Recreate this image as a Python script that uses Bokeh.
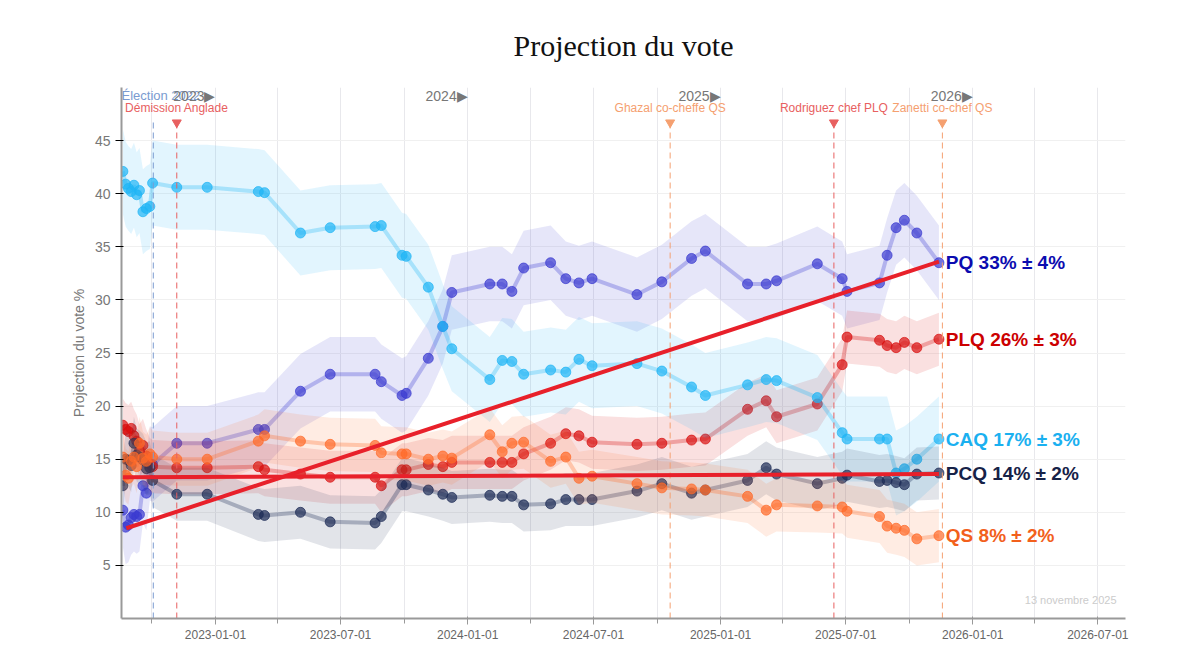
import pandas as pd
from bokeh.plotting import figure
from bokeh.models import Range1d, FixedTicker
from bokeh.core.properties import value
from bokeh.embed import file_html
from bokeh.resources import INLINE

early_dates = ["2022-08-20","2022-08-24","2022-08-28","2022-09-01","2022-09-05","2022-09-09","2022-09-13","2022-09-18","2022-09-23","2022-09-28"]
dates = ["2022-10-02","2022-11-06","2022-12-20",
         "2023-03-04","2023-03-13","2023-05-04","2023-06-16","2023-08-20","2023-08-29","2023-09-28","2023-10-04","2023-11-05","2023-11-26","2023-12-09",
         "2024-02-02","2024-02-20","2024-03-05","2024-03-22","2024-04-30","2024-05-22","2024-06-10","2024-06-29","2024-09-02","2024-10-08","2024-11-20","2024-12-10",
         "2025-02-09","2025-03-08","2025-03-23","2025-05-21","2025-06-26","2025-07-03","2025-08-19","2025-08-30","2025-09-12","2025-09-24","2025-10-12","2025-11-13"]

parties = ["PQ","PLQ","CAQ","PCQ","QS"]
early = {
 "CAQ":[42.1,40.9,40.5,40.2,40.8,39.9,40.3,38.3,38.6,38.8],
 "PQ":[10.2,8.6,8.8,9.5,9.8,9.6,9.8,12.5,11.8,14.6],
 "PLQ":[18.2,17.8,17.6,17.9,17.2,16.7,15.8,16.3,15.3,14.5],
 "QS":[15.2,13.5,13.2,14.8,15.2,14.3,16.5,15.1,14.8,15.5],
 "PCQ":[12.5,15.0,14.9,14.4,16.5,15.4,15.2,14.9,14.1,14.2],
}
vals = {
 "CAQ":[41.0,40.6,40.6,40.2,40.1,36.3,36.8,36.9,37.0,34.2,34.1,31.2,27.5,25.4,22.5,24.3,24.2,23.0,23.4,23.2,24.4,23.8,24.0,23.3,21.8,21.0,22.0,22.5,22.4,20.8,17.5,16.9,16.9,16.9,13.7,14.1,15.0,16.9],
 "PQ":[14.5,16.5,16.5,17.8,17.8,21.4,23.0,23.0,22.3,21.0,21.2,24.5,27.5,30.7,31.5,31.5,30.8,33.0,33.5,32.0,31.6,32.0,30.5,31.7,33.9,34.6,31.5,31.5,31.8,33.4,32.0,30.8,31.6,34.2,36.8,37.5,36.3,33.5],
 "PLQ":[14.3,14.2,14.2,14.3,14.0,13.6,13.3,13.3,12.5,14.0,14.0,14.5,14.3,14.7,14.7,14.7,14.7,15.5,16.5,17.4,17.2,16.6,16.4,16.5,16.8,16.9,19.7,20.5,19.0,20.2,23.9,26.5,26.2,25.7,25.5,26.0,25.5,26.3],
 "QS":[15.2,15.0,15.0,16.7,17.2,16.7,16.4,16.3,15.6,15.5,15.5,15.0,15.3,15.1,17.3,15.7,16.5,16.6,14.8,15.2,13.2,13.4,12.7,12.3,12.2,12.1,11.5,10.2,10.7,10.6,10.5,10.1,9.6,8.7,8.5,8.3,7.5,7.8],
 "PCQ":[13.0,11.7,11.7,9.8,9.7,10.0,9.1,9.0,9.6,12.6,12.6,12.1,11.7,11.4,11.6,11.5,11.5,10.7,10.8,11.2,11.2,11.2,12.0,12.7,11.8,12.1,13.0,14.2,13.6,12.7,13.2,13.5,12.9,13.0,12.8,12.6,13.6,13.7],
}
band = {"CAQ":4.0,"PQ":3.5,"PLQ":2.5,"QS":2.5,"PCQ":2.5}
colors = {"CAQ":"#1fb5f5","PQ":"#3b3bd0","PLQ":"#d81010","QS":"#ff6a28","PCQ":"#1c2b55"}
label_colors = {"CAQ":"#1ab0f0","PQ":"#0b0bb0","PLQ":"#cc0000","QS":"#f2601c","PCQ":"#162247"}
final_pct = {"PQ":33,"PLQ":26,"CAQ":17,"PCQ":14,"QS":8}
final_err = {"PQ":4,"PLQ":3,"CAQ":3,"PCQ":2,"QS":2}

events = ["Élection 2022","Démission Anglade","Ghazal co-cheffe QS","Rodriguez chef PLQ","Zanetti co-chef QS"]
event_dates = ["2022-10-03","2022-11-06","2024-10-20","2025-06-14","2025-11-18"]
event_colors = ["#7a9bd0","#e86060","#f5a070","#e86060","#f5a070"]

years = ["2023","2024","2025","2026"]
year_dates = ["2023-01-01","2024-01-01","2025-01-01","2026-01-01"]
tick_dates = ["2023-01-01","2023-07-01","2024-01-01","2024-07-01","2025-01-01","2025-07-01","2026-01-01","2026-07-01"]

trend_x0 = ["2022-08-25","2022-08-20"]
trend_y0 = [8.5,13.3]
trend_x1 = ["2025-11-13","2025-11-13"]
trend_y1 = [33.6,13.6]

D = lambda l: pd.to_datetime(pd.Series(l))
ms = lambda d: pd.Timestamp(d).value / 1e6
x_start = "2022-08-18"

p = figure(width=1184, height=641, output_backend="svg", toolbar_location=None,
           x_axis_type="datetime",
           x_range=Range1d(pd.Timestamp(x_start), pd.Timestamp("2026-08-10")),
           y_range=Range1d(0, 50),
           min_border_left=121, min_border_right=59, min_border_bottom=23, min_border_top=10)
p.title.text = "Projection du vote"
p.title.align = "center"
p.title.text_font = "Liberation Serif"
p.title.text_font_style = "normal"
p.title.text_font_size = "30px"
p.title.text_color = "#111111"
p.title.standoff = 52
p.outline_line_color = None

qt = [ms(f"{y}-{m:02d}-01") for y in range(2022,2027) for m in (1,4,7,10)]
p.xaxis.ticker = FixedTicker(ticks=[ms(d) for d in tick_dates], minor_ticks=qt)
p.xaxis.major_label_overrides = {ms(d): d for d in tick_dates}
p.xaxis.major_label_text_color = "#666666"
p.xaxis.major_label_text_font_size = "12px"
p.xaxis.axis_line_color = "#999999"
p.xaxis.axis_line_width = 2
p.xaxis.major_tick_line_color = "#999999"
p.xaxis.minor_tick_line_color = "#999999"
p.xaxis.minor_tick_out = 5
p.yaxis.ticker = FixedTicker(ticks=[5,10,15,20,25,30,35,40,45])
p.yaxis.axis_label = "Projection du vote %"
p.yaxis.axis_label_text_color = "#777777"
p.yaxis.axis_label_text_font_style = "normal"
p.yaxis.axis_label_text_font_size = "14px"
p.yaxis.major_label_text_color = "#777777"
p.yaxis.major_label_text_font_size = "14px"
p.yaxis.axis_line_color = "#999999"
p.yaxis.axis_line_width = 2
p.yaxis.minor_tick_line_color = None
p.xgrid.ticker = FixedTicker(ticks=qt)
p.xgrid.grid_line_color = "#e8e8ec"
p.ygrid.grid_line_color = "#f0f0f0"

for party in parties:
    x = pd.concat([D(early_dates), D(dates)], ignore_index=True)
    y = early[party] + vals[party]
    c = colors[party]
    p.varea(x=x, y1=[v-band[party] for v in y], y2=[v+band[party] for v in y],
            fill_color=c, fill_alpha=0.13)
    p.line(x, y, line_color=c, line_width=4, line_alpha=0.3)
    p.scatter(x, y, size=10, fill_color=c, line_color=c, fill_alpha=0.7, line_alpha=0.7)
    p.text(x=[pd.Timestamp("2025-11-23")], y=[vals[party][-1]],
           text=[f"{party} {final_pct[party]}% ± {final_err[party]}%"],
           text_color=label_colors[party], text_font=value("Liberation Sans"),
           text_font_style="bold", text_font_size="19px", text_baseline="middle")

for name, d, c in zip(events, event_dates, event_colors):
    t = pd.Timestamp(d)
    p.segment(x0=[t], y0=[0], x1=[t], y1=[46.9], line_color=c, line_dash="6 4", line_width=1)
    if name == "Élection 2022":
        p.text(x=[pd.Timestamp(x_start)], y=[49.2], text=[name], text_color=c, text_align="left",
               text_baseline="middle", text_font=value("Liberation Sans"), text_font_size="13px")
    else:
        p.scatter(x=[t], y=[46.7], marker="inverted_triangle", size=9, fill_color=c, line_color=c)
        p.text(x=[t], y=[48.1], text=[name], text_color=c, text_align="center",
               text_baseline="middle", text_font=value("Liberation Sans"), text_font_size="12px")

for yl, d in zip(years, year_dates):
    p.text(x=[pd.Timestamp(d)], y=[49.2], text=[yl + "▶"], text_color="#777777", text_align="right",
           text_baseline="middle", text_font=value("Liberation Sans"), text_font_size="14px")

p.segment(x0=D(trend_x0), y0=trend_y0, x1=D(trend_x1), y1=trend_y1,
          line_color="#e8202a", line_width=4)

p.text(x=[pd.Timestamp("2026-07-28")], y=[1.2], text=["13 novembre 2025"], text_color="#cccccc",
       text_align="right", text_font=value("Liberation Sans"), text_font_size="11px")

open("out.html", "w").write(file_html(p, INLINE))
